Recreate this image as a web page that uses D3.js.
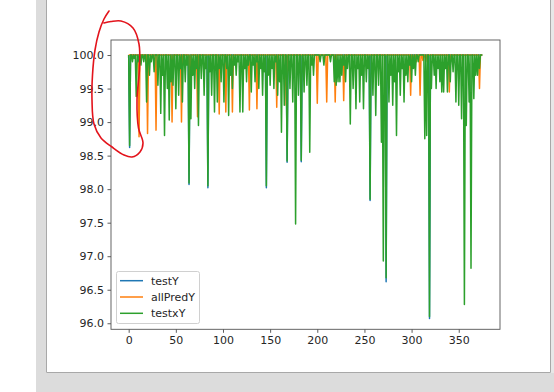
<!doctype html>
<html>
<head>
<meta charset="utf-8">
<script src="https://d3js.org/d3.v7.min.js"></script>
<style>
  body { margin: 0; }
  text { font-family: "DejaVu Sans", sans-serif; }
</style>
</head>
<body>
<svg width="554" height="392"></svg>
<script>
// series: value is 100 except at the listed dips
var TOP = 100;
var testYDipX   = [1, 64, 84, 146, 168, 183, 256, 273, 319];
var testYDipY   = [98.62, 98.07, 98.02, 98.02, 98.40, 98.41, 97.83, 96.62, 96.07];

var allPredDipX = [11, 20, 29, 46, 56, 65, 73, 96, 103, 110, 128, 136, 157, 167, 200, 210, 219, 228, 299, 302, 305, 309, 312, 315, 340, 372];
var allPredDipY = [98.78, 98.83, 98.88, 99.0, 99.0, 99.05, 99.08, 99.12, 99.15, 99.15, 99.18, 99.2, 99.22, 99.25, 99.28, 99.3, 99.3, 99.32, 99.4, 99.92, 99.9, 99.4, 99.92, 99.9, 99.45, 99.5];

var testxYDipX = [1, 4, 6, 8, 10, 13, 16, 19, 22, 24, 27, 31, 34, 36, 38, 41, 43, 45, 47, 50, 53, 55, 57, 60, 62, 64, 66, 68, 70, 72, 74, 77, 80, 82, 84, 86, 88, 91, 94, 96, 98,
  101, 104, 106, 108, 110, 112, 114, 116, 118, 121, 123, 125, 127, 130, 132, 134, 136, 138, 140, 142, 144, 146, 148, 150, 152, 154, 156, 158, 160, 162, 165, 168, 171, 174, 177, 180, 183, 186, 189, 192, 194, 196,
  203, 207, 214, 218, 220, 222, 224, 226, 228, 230, 232, 235, 238, 241, 243, 245, 247, 249, 252, 254, 256, 259, 262, 265, 268, 270, 273, 276, 278, 280, 282, 284, 286, 288, 290, 292, 294, 296, 298,
  300, 302, 304, 307, 314, 316, 319, 321, 324, 326, 328, 330, 332, 334, 336, 338, 341, 344, 347, 350, 353, 356, 358, 361, 363, 366, 368, 370, 372];
var testxYDipY = [98.65, 99.9, 99.95, 99.38, 99.9, 99.85, 99.9, 99.3, 99.7, 99.9, 99.75, 99.55, 99.13, 99.7, 98.8, 99.5, 99.03, 99.6, 99.55, 99.2, 99.4, 99.8, 99.3, 99.6, 99.85, 98.09, 99.05, 99.7, 99.5, 99.8, 98.95, 99.65, 99.4, 99.8, 98.05, 99.75, 99.4, 99.15, 99.3, 99.8, 99.6,
  99.3, 99.8, 99.1, 99.7, 99.5, 99.85, 99.7, 99.9, 99.15, 99.15, 99.8, 99.6, 99.85, 99.45, 99.85, 99.6, 99.9, 99.5, 99.8, 99.4, 99.75, 98.05, 99.7, 99.55, 99.8, 99.5, 99.9, 99.4, 99.6, 98.85, 99.25, 98.42, 99.5, 99.3, 97.48, 99.4, 98.43, 99.45, 99.55, 98.55, 99.85, 99.7,
  99.9, 99.85, 99.9, 99.6, 99.55, 99.6, 99.6, 99.7, 99.85, 99.6, 99.8, 98.97, 99.5, 99.2, 99.8, 99.3, 99.7, 99.2, 99.6, 99.8, 97.85, 99.4, 99.1, 99.55, 98.7, 96.93, 96.68, 99.3, 99.7, 99.25, 99.6, 98.8, 99.75, 99.4, 99.8, 99.3, 99.7, 99.6, 99.85,
  99.6, 99.8, 99.7, 99.9, 98.75, 98.8, 96.1, 99.5, 99.7, 99.5, 99.8, 99.6, 99.45, 99.45, 99.8, 99.45, 99.6, 99.75, 99.3, 99.25, 99.05, 96.28, 98.95, 99.3, 96.82, 99.35, 99.7, 99.7, 99.8];
var lastIndex = 375;

var xTicks = [0, 50, 100, 150, 200, 250, 300, 350];
var yTicks = [96.0, 96.5, 97.0, 97.5, 98.0, 98.5, 99.0, 99.5, 100.0];
var names  = ["testY", "allPredY", "testxY"];
var colors = ["#1f77b4", "#ff7f0e", "#2ca02c"];

function series(dx, dy) {
  var pts = [[0, TOP]];
  dx.forEach(function(v, i) {
    pts.push([v - 1, TOP], [v, dy[i]], [v + 1, TOP]);
  });
  pts.push([lastIndex, TOP]);
  return pts;
}
var data = [series(testYDipX, testYDipY), series(allPredDipX, allPredDipY), series(testxYDipX, testxYDipY)];

var svg = d3.select("svg");

// window frame around the figure
svg.append("rect").attr("width", 554).attr("height", 392).attr("fill", "#fff");
svg.append("rect").attr("x", 36).attr("y", 0).attr("width", 10).attr("height", 392).attr("fill", "#dcdcdc");
svg.append("rect").attr("x", 36).attr("y", 373).attr("width", 518).attr("height", 19).attr("fill", "#dcdcdc");
svg.append("rect").attr("x", 551).attr("y", 0).attr("width", 3).attr("height", 373).attr("fill", "#e8e8e8");
svg.append("path").attr("d", "M46.5,0V372.5H550.5V0").attr("fill", "none").attr("stroke", "#a8a8a8");

var plotL = 111, plotR = 500, plotT = 40, plotB = 329.3;
var x = d3.scaleLinear().domain([-18.75, 393.75]).range([plotL, plotR]);
var y = d3.scaleLinear().domain([95.91, 100.224]).range([plotB, plotT]);

var line = d3.line().x(function(d) { return x(d[0]); }).y(function(d) { return y(d[1]); });

svg.append("g").selectAll("path")
  .data(data)
  .enter().append("path")
  .attr("d", line)
  .attr("fill", "none")
  .attr("stroke", function(d, i) { return colors[i]; })
  .attr("stroke-width", 1.5)
  .attr("stroke-linejoin", "round");

// axes
var xAxis = svg.append("g")
  .attr("transform", "translate(0," + plotB + ")")
  .call(d3.axisBottom(x).tickValues(xTicks).tickSize(3.5).tickPadding(3.5).tickFormat(d3.format("d")));
var yAxis = svg.append("g")
  .attr("transform", "translate(" + plotL + ",0)")
  .call(d3.axisLeft(y).tickValues(yTicks).tickSize(3.5).tickPadding(3.5).tickFormat(d3.format(".1f")));
[xAxis, yAxis].forEach(function(a) {
  a.select(".domain").remove();
  a.selectAll("line").attr("stroke", "#333").attr("stroke-width", 0.8);
  a.selectAll("text").attr("font-size", 11).attr("fill", "#262626").style("font-family", "DejaVu Sans");
});

svg.append("rect")
  .attr("x", plotL).attr("y", plotT)
  .attr("width", plotR - plotL).attr("height", plotB - plotT)
  .attr("fill", "none").attr("stroke", "#555").attr("stroke-width", 0.9);

// legend
var lg = svg.append("g");
lg.append("rect")
  .attr("x", 116.5).attr("y", 271.5).attr("width", 83).attr("height", 52).attr("rx", 2)
  .attr("fill", "#fff").attr("fill-opacity", 0.8).attr("stroke", "#d0d0d0");
names.forEach(function(n, i) {
  var ly = 280.7 + i * 16.3;
  lg.append("line").attr("x1", 120).attr("x2", 143).attr("y1", ly).attr("y2", ly)
    .attr("stroke", colors[i]).attr("stroke-width", 1.5);
  lg.append("text").attr("x", 151).attr("y", ly).attr("dy", "0.35em")
    .attr("font-size", 11).attr("fill", "#262626").text(n);
});

// red hand-drawn circle around the y axis
var mark = [[109, 11], [104, 19], [99, 32], [95, 50], [92.5, 75], [92, 100], [94, 124], [101, 138], [112, 147], [124, 155], [132, 157],
            [140, 152], [143, 143], [138.5, 128], [137, 100], [139.5, 68], [139, 44], [133, 28], [121, 21], [111, 21.5], [104, 23]];
svg.append("path")
  .attr("d", d3.line().curve(d3.curveCatmullRom)(mark))
  .attr("fill", "none").attr("stroke", "#e3141c").attr("stroke-width", 1.6)
  .attr("stroke-linecap", "round");
</script>
</body>
</html>
